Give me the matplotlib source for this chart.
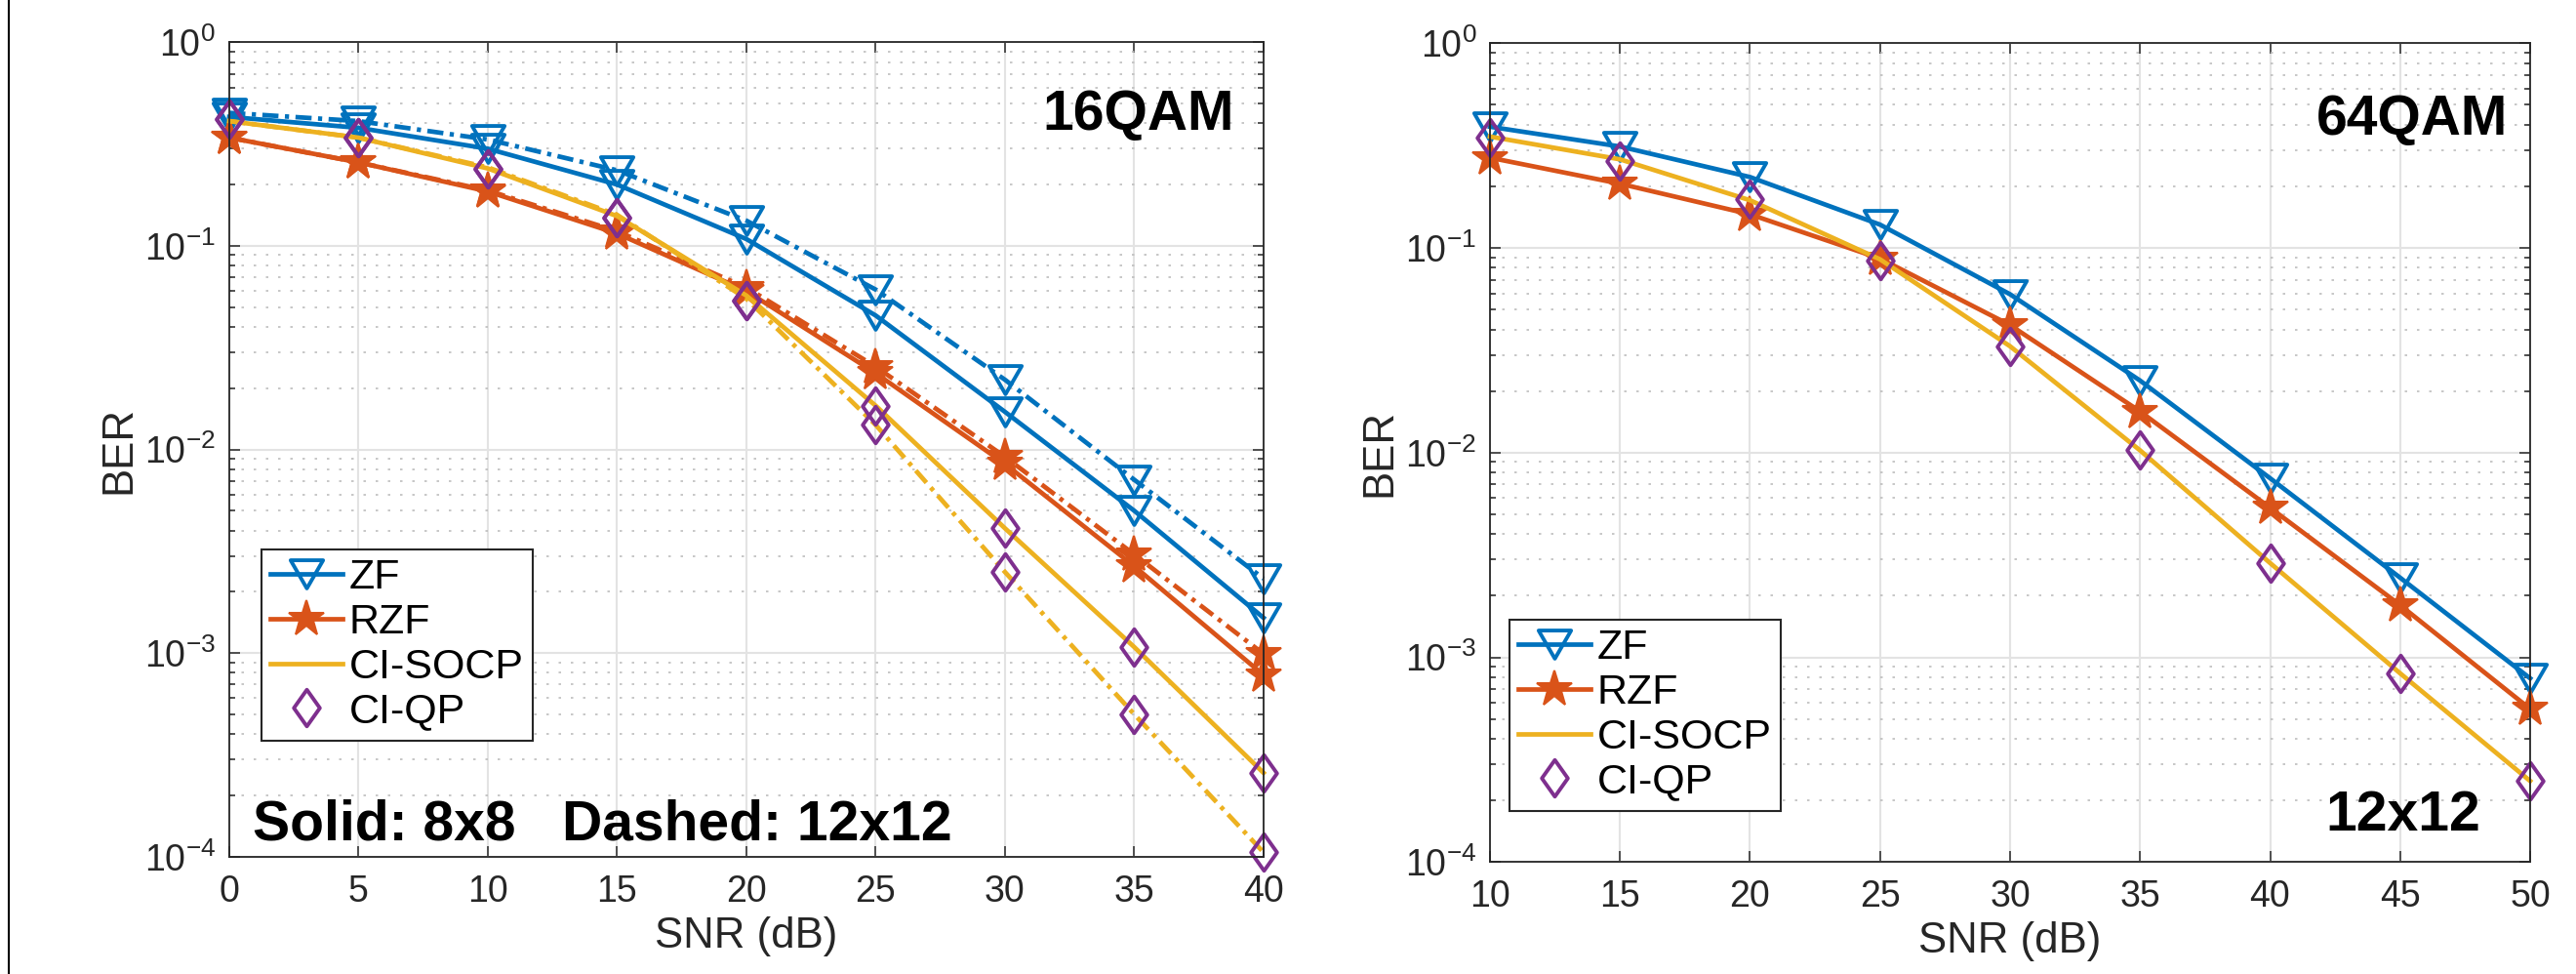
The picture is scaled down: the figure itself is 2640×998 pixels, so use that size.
import matplotlib.pyplot as plt
import matplotlib as mpl
from matplotlib.lines import Line2D
from matplotlib.path import Path
from matplotlib.ticker import LogLocator, FixedLocator, NullFormatter

# 16QAM panel, SNR 0..40 dB (solid = 8x8, dashed = 12x12)
snr_16 = [0, 5, 10, 15, 20, 25, 30, 35, 40]
zf_8x8 = [0.43, 0.38, 0.30, 0.20, 0.108, 0.0455, 0.0153, 0.0050, 0.00149]
zf_12x12 = [0.45, 0.41, 0.333, 0.235, 0.133, 0.061, 0.022, 0.0071, 0.00232]
rzf_8x8 = [0.34, 0.257, 0.185, 0.115, 0.060, 0.0237, 0.0085, 0.00267, 0.00078]
rzf_12x12 = [0.34, 0.257, 0.187, 0.118, 0.0624, 0.0255, 0.0092, 0.00305, 0.00099]
socp_8x8 = [0.41, 0.34, 0.24, 0.14, 0.057, 0.0164, 0.0041, 0.00107, 0.000258]
socp_12x12 = [0.41, 0.34, 0.243, 0.142, 0.055, 0.0132, 0.0025, 0.00050, 0.000105]
qp_8x8 = [0.42, 0.34, 0.24, 0.138, 0.054, 0.0164, 0.0041, 0.00107, 0.000258]
qp_12x12 = [0.42, 0.34, 0.24, 0.138, 0.054, 0.0132, 0.0025, 0.00050, 0.000105]

# 64QAM panel, 12x12, SNR 10..50 dB
snr_64 = [10, 15, 20, 25, 30, 35, 40, 45, 50]
zf_64 = [0.391, 0.313, 0.222, 0.130, 0.0594, 0.0225, 0.0075, 0.00245, 0.00079]
rzf_64 = [0.276, 0.206, 0.146, 0.0888, 0.042, 0.0159, 0.00538, 0.0018, 0.00056]
socp_64 = [0.35, 0.271, 0.171, 0.088, 0.0331, 0.01026, 0.00289, 0.000836, 0.000249]
qp_64 = [0.345, 0.265, 0.173, 0.087, 0.0331, 0.01026, 0.00289, 0.000836, 0.000249]

labels = ["ZF", "RZF", "CI-SOCP", "CI-QP"]

plt.rcParams['font.family'] = ['Liberation Sans', 'DejaVu Sans']
plt.rcParams['mathtext.fontset'] = 'custom'
plt.rcParams['mathtext.rm'] = 'Liberation Sans'
plt.rcParams['mathtext.it'] = 'Liberation Sans:italic'
plt.rcParams['mathtext.bf'] = 'Liberation Sans:bold'

BLUE = '#0072BD'
ORANGE = '#D95319'
YELLOW = '#EDB120'
PURPLE = '#7E2F8E'
AXCOL = '#262626'

# closed marker outlines (MATLAB-like equilateral triangle and diamond)
TRI = Path([(-1, 0.866), (1, 0.866), (0, -0.866), (-1, 0.866)], closed=True)
DIAM = Path([(0, 1), (0.71, 0), (0, -1), (-0.71, 0), (0, 1)], closed=True)
DASHDOT = (0, (3.5, 1.4, 0.9, 1.4))

LW = 3.4
MEW = 2.8
style = {
    "ZF": dict(color=BLUE, marker=TRI, ms=24, mfc='none', mew=MEW, lw=LW),
    "RZF": dict(color=ORANGE, marker='*', ms=28, mfc=ORANGE, mew=1.5, lw=LW),
    "CI-SOCP": dict(color=YELLOW, marker='None', lw=LW),
    "CI-QP": dict(color=PURPLE, marker=DIAM, ms=27, mfc='none', mew=MEW, lw=0, ls='None'),
}


def style_axis(ax, xlim, xticks):
    ax.set_yscale('log')
    ax.set_ylim(1e-4, 1)
    ax.set_xlim(*xlim)
    ax.xaxis.set_major_locator(FixedLocator(xticks))
    ax.yaxis.set_major_locator(LogLocator(base=10, numticks=10))
    ax.yaxis.set_minor_locator(LogLocator(base=10, subs=range(2, 10), numticks=20))
    ax.yaxis.set_minor_formatter(NullFormatter())
    ax.set_axisbelow(True)
    ax.grid(True, which='major', axis='both', color='#E3E3E3', lw=1.5, ls='-')
    ax.grid(True, which='minor', axis='y', color='#BDBDBD', lw=1.2, ls=(0, (1.5, 6)))
    ax.tick_params(which='both', direction='in', top=True, right=True, color=AXCOL, labelcolor=AXCOL)
    ax.tick_params(which='major', length=8, width=1.1, labelsize=27)
    ax.tick_params(which='minor', length=4, width=1.1)
    ax.tick_params(axis='x', which='major', pad=13)
    ax.tick_params(axis='y', which='major', pad=10)
    for s in ax.spines.values():
        s.set_color(AXCOL)
        s.set_linewidth(1.3)
    ax.set_xlabel("SNR (dB)", fontsize=31.5, color=AXCOL, labelpad=5)
    ax.set_ylabel("BER", fontsize=31.5, color=AXCOL)


def plot_series(ax, x, y, name, ls='-'):
    kw = dict(style[name])
    if name != "CI-QP":
        kw['ls'] = ls
    ax.plot(x, y, clip_on=False, **kw)


def add_legend(fig, x, y):
    handles = [Line2D([], [], **style[k]) for k in labels]
    leg = fig.legend(handles, labels, loc='upper left', bbox_to_anchor=(x, y),
                     bbox_transform=fig.transFigure, fontsize=31, frameon=True,
                     fancybox=False, framealpha=1, edgecolor=AXCOL, borderaxespad=0,
                     borderpad=0.22, labelspacing=0.13, handlelength=1.7, handletextpad=0.16)
    leg.get_frame().set_linewidth(1.5)
    return leg


def main():
    fig = plt.figure(figsize=(26.4, 9.98), dpi=100)
    ax1 = fig.add_axes([0.0890, 0.1205, 0.4015, 0.8361])
    ax2 = fig.add_axes([0.5784, 0.1149, 0.4038, 0.8407])

    # left panel
    plot_series(ax1, snr_16, zf_8x8, "ZF")
    plot_series(ax1, snr_16, zf_12x12, "ZF", DASHDOT)
    plot_series(ax1, snr_16, rzf_8x8, "RZF")
    plot_series(ax1, snr_16, rzf_12x12, "RZF", DASHDOT)
    plot_series(ax1, snr_16, socp_8x8, "CI-SOCP")
    plot_series(ax1, snr_16, socp_12x12, "CI-SOCP", DASHDOT)
    plot_series(ax1, snr_16, qp_8x8, "CI-QP")
    plot_series(ax1, snr_16, qp_12x12, "CI-QP")
    style_axis(ax1, (0, 40), snr_16)
    ax1.yaxis.set_label_coords(-0.0877, 0.5)
    ax1.text(0.9717, 0.8925, "16QAM", transform=ax1.transAxes, ha='right', va='baseline',
             fontsize=41, fontweight='bold', color='black')
    ax1.text(0.0226, 0.0212, "Solid: 8x8   Dashed: 12x12", transform=ax1.transAxes,
             ha='left', va='baseline', fontsize=41, fontweight='bold', color='black')

    # right panel
    plot_series(ax2, snr_64, zf_64, "ZF")
    plot_series(ax2, snr_64, rzf_64, "RZF")
    plot_series(ax2, snr_64, socp_64, "CI-SOCP")
    plot_series(ax2, snr_64, qp_64, "CI-QP")
    style_axis(ax2, (10, 50), snr_64)
    ax2.yaxis.set_label_coords(-0.0872, 0.5)
    ax2.text(0.9784, 0.8883, "64QAM", transform=ax2.transAxes, ha='right', va='baseline',
             fontsize=41, fontweight='bold', color='black')
    ax2.text(0.952, 0.0385, "12x12", transform=ax2.transAxes, ha='right', va='baseline',
             fontsize=41, fontweight='bold', color='black')

    add_legend(fig, 268 / 2640, 1 - 563 / 998)
    add_legend(fig, 1547 / 2640, 1 - 635 / 998)

    # thin frame line at the very left edge of the original picture
    fig.add_artist(Line2D([9 / 2640, 9 / 2640], [0, 1], transform=fig.transFigure,
                          color='black', lw=1.5))

    fig.savefig("out.png", dpi=100)


if __name__ == '__main__':
    main()
